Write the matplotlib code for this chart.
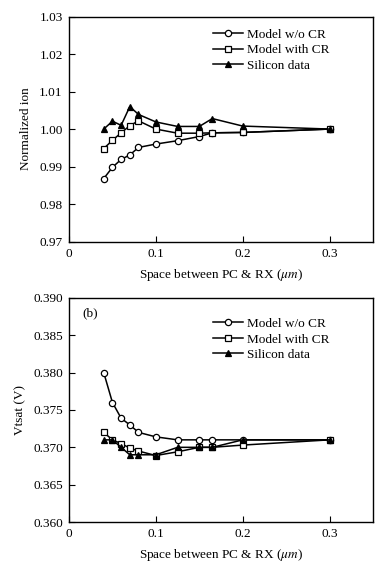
import numpy as np
import matplotlib
matplotlib.use("Agg")
import matplotlib.pyplot as plt
from matplotlib.ticker import FormatStrFormatter

plt.rcParams['font.family'] = ['Liberation Serif', 'DejaVu Serif']
plt.rcParams['mathtext.fontset'] = 'stix'

# spacing (um)
x = [0.04, 0.05, 0.06, 0.07, 0.08, 0.10, 0.125, 0.15, 0.165, 0.20, 0.30]

# (a) normalized Ion
ion_wo_cr = [0.9868, 0.9898, 0.9919, 0.9931, 0.9951, 0.9960, 0.9969, 0.9980, 0.9990, 0.9991, 1.0000]
ion_with_cr = [0.9948, 0.9970, 0.9990, 1.0009, 1.0022, 1.0000, 0.9989, 0.9989, 0.9990, 0.9991, 1.0000]
ion_si = [1.0000, 1.0021, 1.0010, 1.0060, 1.0039, 1.0019, 1.0007, 1.0007, 1.0028, 1.0008, 1.0000]

# (b) Vtsat
vt_wo_cr = [0.3800, 0.3760, 0.3739, 0.3730, 0.3720, 0.3714, 0.3710, 0.3710, 0.3710, 0.3710, 0.3710]
vt_with_cr = [0.3720, 0.3710, 0.3705, 0.3699, 0.3695, 0.3689, 0.3694, 0.3700, 0.3700, 0.3703, 0.3710]
vt_si = [0.3710, 0.3710, 0.3700, 0.3690, 0.3690, 0.3690, 0.3700, 0.3700, 0.3700, 0.3710, 0.3710]

labels = ["Model w/o CR", "Model with CR", "Silicon data"]

fig = plt.figure(figsize=(3.91, 5.73), dpi=100)
ax1 = fig.add_axes([0.1765, 0.5785, 0.7775, 0.3925])
ax2 = fig.add_axes([0.1765, 0.089, 0.7775, 0.391])


def draw(ax, ys, ylim, yticks, fmt, ylabel, leg_y):
    styles = [dict(marker='o', mfc='white', ms=4.5),
              dict(marker='s', mfc='white', ms=4.5),
              dict(marker='^', mfc='black', ms=4)]
    for y, lab, st in zip(ys, labels, styles):
        ax.plot(x, y, color='black', lw=1.1, mec='black', mew=0.9, label=lab, **st)
    ax.set_xlim(0, 0.35)
    ax.set_ylim(*ylim)
    ax.set_xticks([0, 0.1, 0.2, 0.3])
    ax.set_xticklabels(["0", "0.1", "0.2", "0.3"])
    ax.set_yticks(yticks)
    ax.yaxis.set_major_formatter(FormatStrFormatter(fmt))
    ax.tick_params(direction='in', labelsize=9.5, length=4, width=0.8, pad=4.5)
    for s in ax.spines.values():
        s.set_linewidth(1.0)
    ax.set_xlabel(r"Space between PC & RX ($\mu m$)", fontsize=9.5, labelpad=5)
    ax.set_ylabel(ylabel, fontsize=9.5, labelpad=5)
    ax.legend(loc='upper left', bbox_to_anchor=(0.455, leg_y), frameon=False,
              fontsize=9.5, handlelength=2.3, handletextpad=0.3,
              labelspacing=0.25, borderaxespad=0.0)


draw(ax1, [ion_wo_cr, ion_with_cr, ion_si], (0.97, 1.03),
     [0.97, 0.98, 0.99, 1.00, 1.01, 1.02, 1.03], '%.2f', "Normalized ion", 0.97)
draw(ax2, [vt_wo_cr, vt_with_cr, vt_si], (0.360, 0.390),
     [0.360, 0.365, 0.370, 0.375, 0.380, 0.385, 0.390], '%.3f', "Vtsat (V)", 0.935)
ax2.text(0.045, 0.933, "(b)", transform=ax2.transAxes, fontsize=9.5, va='center')

fig.savefig("out.png", dpi=100)
